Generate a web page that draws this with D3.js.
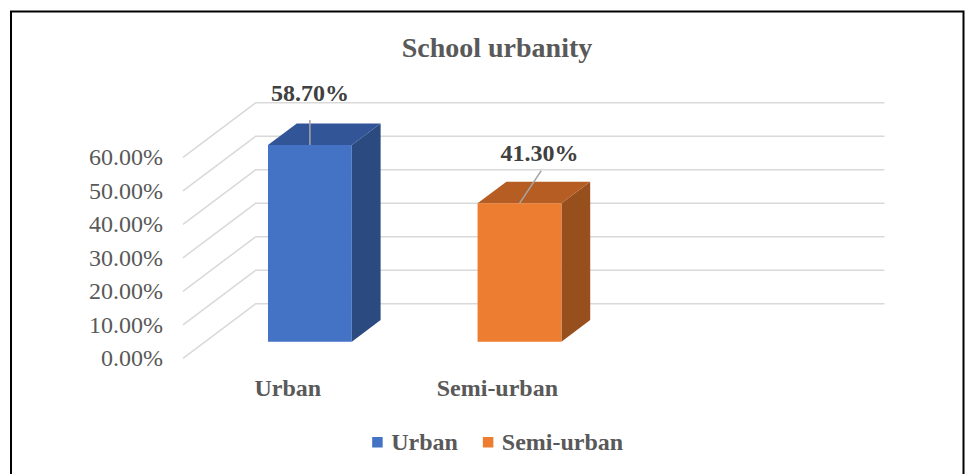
<!DOCTYPE html>
<html>
<head>
<meta charset="utf-8">
<script src="https://cdn.jsdelivr.net/npm/d3@7"></script>
<style>
  body { margin: 0; background: #fff; }
  svg text { font-family: 'Liberation Serif', 'Times New Roman', serif; }
</style>
</head>
<body>
<div class="chart"></div>
<script>
const categories = ['Urban', 'Semi-urban']
const values = [0.587, 0.413]
const yTicks = [0, 0.1, 0.2, 0.3, 0.4, 0.5, 0.6]
const title = 'School urbanity'

const FRONT_COLORS = ['#4472c4', '#ed7d31']
const TOP_COLORS = ['#325597', '#b55d22']
const SIDE_COLORS = ['#2a4a80', '#984f1e']
const TEXT_COLOR = '#595959'
const GRID_COLOR = '#d9d9d9'

const width = 966
const height = 474

// 3d box: floor front-left corner, depth offset of the back wall
const floorLeft = 183
const depthX = 72.7
const depthY = -54.6
const slotWidth = 209.6
const slotCount = 3 // one empty slot at the right, like the source sheet
const barFront = 0.304
const barBack = 0.7

const svg = d3.select('.chart').append('svg')
  .attr('width', width)
  .attr('height', height)

// frame
svg.append('path')
  .attr('d', `M11,${height} V11.5 H963.5 V${height}`)
  .attr('fill', 'none')
  .attr('stroke', '#000')
  .attr('stroke-width', 2)

const x = d3.scaleBand()
  .domain(categories)
  .range([floorLeft, floorLeft + slotWidth * categories.length])

const y = d3.scaleLinear()
  .domain([0, 0.6])
  .range([358.3, 157.3])

// project a point at given depth (0 front, 1 back)
const px = (xv, d) => xv + d * depthX
const py = (yv, d) => yv + d * depthY

// gridlines: floor diagonal + back wall
svg.append('g')
  .selectAll('path')
  .data(yTicks)
  .join('path')
    .attr('fill', 'none')
    .attr('stroke', GRID_COLOR)
    .attr('stroke-width', 1.5)
    .attr('d', d => `M${floorLeft},${y(d)} L${px(floorLeft, 1)},${py(y(d), 1)} H${px(floorLeft + slotWidth * slotCount, 1)}`)

// y axis labels
const yAxis = svg.append('g')
  .attr('transform', `translate(${floorLeft},0)`)
  .call(d3.axisLeft(y).tickValues(yTicks).tickSize(0).tickPadding(20).tickFormat(d3.format('.2%')))
yAxis.select('.domain').remove()
yAxis.selectAll('text')
  .attr('fill', TEXT_COLOR)
  .attr('font-size', 24)
  .attr('font-family', 'Liberation Serif, serif')

// bars
const bars = svg.append('g')
categories.forEach((cat, i) => {
  const bw = x.bandwidth() * 0.4
  const x0 = x(cat) + (x.bandwidth() - bw) / 2
  const x1 = x0 + bw
  const yb = y(0)
  const yt = y(values[i])
  const P = (xv, yv, d) => [px(xv, d), py(yv, d)]
  const face = pts => 'M' + pts.map(p => p.join(',')).join('L') + 'Z'
  // side
  bars.append('path')
    .attr('d', face([P(x1, yb, barFront), P(x1, yb, barBack), P(x1, yt, barBack), P(x1, yt, barFront)]))
    .attr('fill', SIDE_COLORS[i])
  // top
  bars.append('path')
    .attr('d', face([P(x0, yt, barFront), P(x0, yt, barBack), P(x1, yt, barBack), P(x1, yt, barFront)]))
    .attr('fill', TOP_COLORS[i])
  // front
  bars.append('path')
    .attr('d', face([P(x0, yb, barFront), P(x1, yb, barFront), P(x1, yt, barFront), P(x0, yt, barFront)]))
    .attr('fill', FRONT_COLORS[i])
})

// data labels with leader lines
const labelOffsets = [{ dx: 0, dy: -44, lx: 0, ly: -25 }, { dx: 20, dy: -42.6, lx: 21.7, ly: -32.6 }]
const labels = svg.append('g')
categories.forEach((cat, i) => {
  const o = labelOffsets[i]
  const cx = px(x(cat) + x.bandwidth() / 2, barFront)
  const top = py(y(values[i]), barFront)
  labels.append('line')
    .attr('x1', cx).attr('y1', top)
    .attr('x2', cx + o.lx).attr('y2', top + o.ly)
    .attr('stroke', '#a6a6a6')
    .attr('stroke-width', 1.5)
  labels.append('text')
    .attr('x', cx + o.dx)
    .attr('y', top + o.dy)
    .attr('text-anchor', 'middle')
    .attr('font-size', 24)
    .attr('font-weight', 'bold')
    .attr('fill', '#404040')
    .text(d3.format('.2%')(values[i]))
})

// category labels at the floor front
svg.append('g')
  .selectAll('text')
  .data(categories)
  .join('text')
    .attr('x', d => x(d) + x.bandwidth() / 2)
    .attr('y', 396)
    .attr('text-anchor', 'middle')
    .attr('font-size', 24)
    .attr('font-weight', 'bold')
    .attr('fill', TEXT_COLOR)
    .text(d => d)

// title
svg.append('text')
  .attr('x', 497)
  .attr('y', 57)
  .attr('text-anchor', 'middle')
  .attr('font-size', 28)
  .attr('font-weight', 'bold')
  .attr('fill', TEXT_COLOR)
  .text(title)

// legend
const legend = svg.append('g')
const items = legend.selectAll('g')
  .data(categories)
  .join('g')
items.append('rect')
  .attr('width', 10.5)
  .attr('height', 10.5)
  .attr('y', -13)
  .attr('fill', (d, i) => FRONT_COLORS[i])
items.append('text')
  .attr('x', 19)
  .attr('font-size', 24)
  .attr('font-weight', 'bold')
  .attr('fill', TEXT_COLOR)
  .text(d => d)
let offset = 0
items.each(function() {
  d3.select(this).attr('transform', `translate(${offset},0)`)
  offset += 19 + d3.select(this).select('text').node().getComputedTextLength() + 25
})
const legendWidth = offset - 25
legend.attr('transform', `translate(${497.7 - legendWidth / 2},450)`)
</script>
</body>
</html>
